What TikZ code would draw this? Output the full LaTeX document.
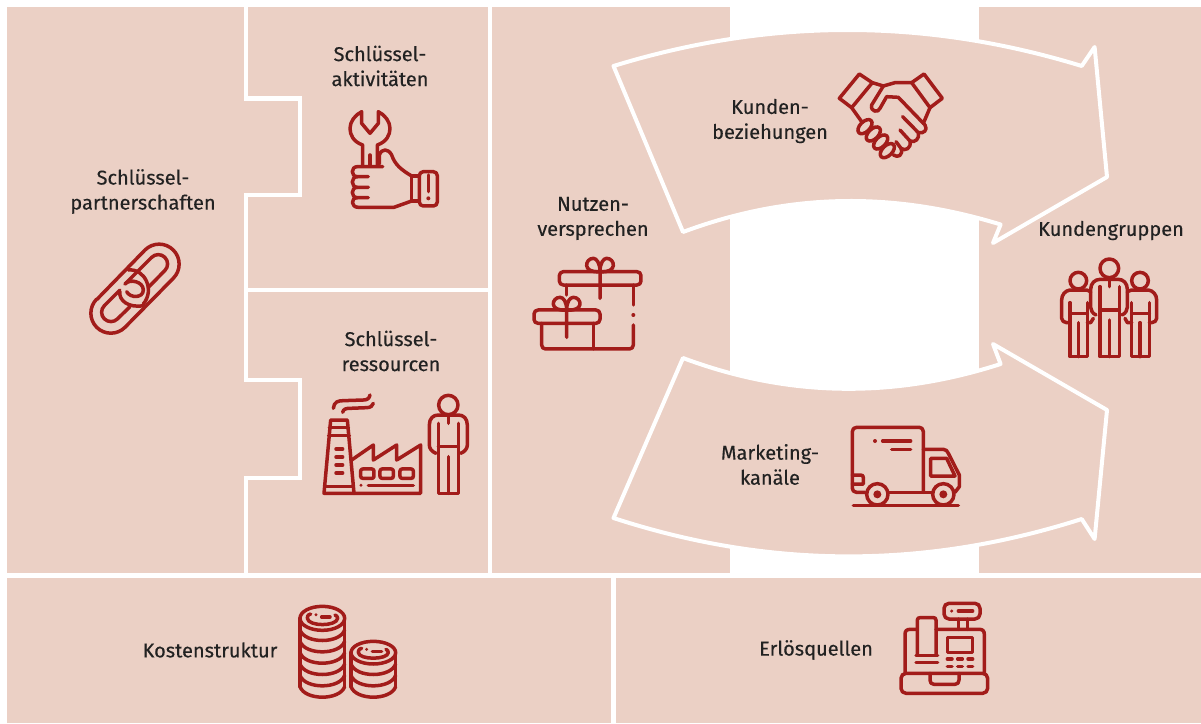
\documentclass[tikz,border=0pt]{standalone}
\usepackage{fontspec}
\setmainfont[FakeBold=0.3]{Fira Sans}
\definecolor{panelpink}{HTML}{EBD0C5}
\definecolor{iconred}{HTML}{A21C1A}
\definecolor{labelgrey}{HTML}{222222}
\tikzset{
	panel/.style={fill=panelpink,draw=none},
	seam/.style={draw=white,line width=4.5pt},
	flowarrow/.style={fill=panelpink,draw=white,line width=4pt,line join=round},
	boxlabel/.style={text=labelgrey,font=\addfontfeature{FakeBold=0.3}\fontsize{20pt}{25pt}\selectfont,align=center,inner sep=0pt},
	icon/.style={shift={#1},x=0.3333pt,y=-0.3333pt,draw=iconred,line width=3.5pt,line cap=round,line join=round},
	dotmark/.style={fill=iconred,draw=none}
}
\begin{document}
\begin{tikzpicture}[x=1pt,y=-1pt]
	\useasboundingbox (0,0) rectangle (1201,723);
	\fill[white] (0,0) rectangle (1201,723);
	\path[panel] (7,7) rectangle (730,573);
	\path[panel] (979,7) rectangle (1201,573);
	\path[panel] (7,578) rectangle (611,723);
	\path[panel] (616,578) rectangle (1201,723);
	\draw[seam] (246,7) -- (246,98.5) -- (300,98.5) -- (300,195) -- (246,195) -- (246,380) -- (300,380) -- (300,478) -- (246,478) -- (246,575);
	\draw[seam] (246,290) -- (490,290);
	\draw[seam] (490,7) -- (490,575);
	\draw[seam] (0,575.5) -- (1201,575.5);
	\draw[seam] (613.5,575) -- (613.5,723);
	\draw[flowarrow] (613.5,66) .. controls (770,18) and (925,18) .. (1081.7,66) -- (1094.6,47) -- (1107,177) -- (993,243) -- (1000.6,224.5) .. controls (895,192) and (790,192) .. (683,232) -- cycle;
	\draw[flowarrow] (683,358) .. controls (790,398) and (895,398) .. (1000.6,364) -- (993,344) -- (1107,410) -- (1094.6,539) -- (1081.7,519) .. controls (925,569) and (770,569) .. (613.5,518) -- cycle;

	\node[boxlabel] (partners) at (143,191.5) {Schlüssel-\\partnerschaften};
	\node[boxlabel] (activities) at (380,66) {Schlüssel-\\aktivitäten};
	\node[boxlabel] (resources) at (391,351) {Schlüssel-\\ressourcen};
	\node[boxlabel] (value) at (593,218.5) {Nutzen-\\versprechen};
	\node[boxlabel] (relations) at (770,121) {Kunden-\\beziehungen};
	\node[boxlabel] (channels) at (770,464.5) {Marketing-\\kanäle};
	\node[boxlabel] (segments) at (1111,230.5) {Kundengruppen};
	\node[boxlabel] (costs) at (210,650) {Kostenstruktur};
	\node[boxlabel] (revenue) at (816,650) {Erlösquellen};

	% chain
	\begin{scope}[icon={(80,235)}]
		\draw (51,193) -- (195,45) arc[start angle=225,end angle=405,radius=60] -- (135,277) arc[start angle=45,end angle=225,radius=60];
		\draw (215,67) arc[start angle=225,end angle=405,radius=28] -- (207,155);
		\draw (215,67) -- (135,147);
		\draw (73,212) -- (120,165);
		\draw (73,212) arc[start angle=225,end angle=45,radius=28] -- (150,215);
		\draw (145,105) .. controls (195,100) and (225,165) .. (190,207);
		\draw (135,147) .. controls (150,130) and (190,140) .. (190,165) .. controls (190,190) and (150,190) .. (140,170);
		\draw (120,170) .. controls (115,195) and (145,220) .. (190,212);
	\end{scope}

	% wrench and fist
	\begin{scope}[icon={(320,100)}]
		\draw (128,195) -- (128,135) .. controls (100,125) and (90,105) .. (90,85) .. controls (90,65) and (105,45) .. (125,35) -- (125,70) -- (150,100) -- (175,70) -- (175,35) .. controls (195,45) and (210,65) .. (210,85) .. controls (210,105) and (200,125) .. (172,135) -- (172,195);
		\draw (150,165) -- (150,195);
		\draw (178,192) -- (178,165) .. controls (185,145) and (205,145) .. (215,165) .. controls (225,195) and (245,210) .. (275,228);
		\draw (188,200) -- (112,200) .. controls (92,200) and (92,230) .. (112,230) -- (145,230);
		\draw (112,230) .. controls (92,230) and (92,262) .. (112,262) -- (145,262);
		\draw (112,262) .. controls (92,262) and (92,293) .. (112,293) -- (145,293);
		\draw (112,293) .. controls (92,293) and (92,322) .. (115,322) -- (222,322) -- (275,303);
		\draw (275,228) -- (275,303) -- (298,303);
		\draw (275,228) -- (298,228);
		\draw[rounded corners=4pt] (298,215) rectangle (352,318);
		\draw (325,225) -- (325,275);
		\fill[dotmark] (325,295) circle (6);
	\end{scope}

	% factory and worker
	\begin{scope}[icon={(310,385)}]
		\draw (70,70) .. controls (72,50) and (85,47) .. (100,47) -- (160,45) .. controls (172,45) and (178,40) .. (180,30);
		\draw (98,82) .. controls (100,72) and (108,70) .. (120,70) -- (170,68) .. controls (182,68) and (188,62) .. (190,55);
		\draw (62,105) -- (112,105) -- (132,325) -- (42,325) -- cycle;
		\draw (58,127) -- (115,127);
		\draw (56,152) -- (118,152);
		\draw (47,305) -- (128,305);
		\foreach \rowy in {192,216,240,264}
			\draw (78,\rowy) -- (98,\rowy);
		\draw (125,225) -- (190,180) -- (190,225) -- (260,180) -- (260,225) -- (332,180) -- (332,325) -- (132,325);
		\foreach \winx in {152,210,270}
			\draw[rounded corners=2pt] (\winx,252) rectangle ++(40,28);
		\fill[dotmark] (153,301) circle (5);
		\draw (175,301) -- (310,301);
		\draw (415,60) circle (29);
		\draw (415,90) -- (415,115);
		\draw (378,205) .. controls (365,200) and (358,190) .. (358,180) -- (358,120) .. controls (358,100) and (370,90) .. (385,90) -- (445,90) .. controls (460,90) and (472,100) .. (472,120) -- (472,180) .. controls (472,190) and (465,200) .. (452,205);
		\draw (385,115) -- (385,325) -- (445,325) -- (445,115);
		\draw (385,185) -- (445,185);
		\draw (415,215) -- (415,325);
	\end{scope}

	% gifts
	\begin{scope}[icon={(525,250)}]
		\draw[rounded corners=4pt] (103,65) rectangle (348,105);
		\draw (225,65) .. controls (170,70) and (180,25) .. (205,25) .. controls (215,25) and (225,40) .. (225,65) .. controls (225,40) and (235,25) .. (245,25) .. controls (270,25) and (280,70) .. (225,65) -- (225,145);
		\draw (125,105) -- (125,135);
		\draw (325,105) -- (325,165);
		\fill[dotmark] (325,195) circle (6);
		\draw (325,225) -- (325,285) .. controls (325,292) and (320,297) .. (313,297) -- (62,297) .. controls (55,297) and (50,292) .. (50,285) -- (50,220);
		\draw[rounded corners=4pt] (27,180) rectangle (225,220);
		\draw (125,180) .. controls (70,185) and (80,142) .. (105,142) .. controls (115,142) and (125,155) .. (125,180) .. controls (125,155) and (135,142) .. (145,142) .. controls (170,142) and (180,185) .. (125,180) -- (125,262);
		\draw (205,220) -- (205,297);
	\end{scope}

	% handshake
	\begin{scope}[icon={(830,60)}]
		\draw (88,42) -- (127,68) -- (65,143) -- (28,115) -- cycle;
		\draw (282,42) -- (245,68) -- (300,143) -- (337,115) -- cycle;
		\draw (127,68) -- (160,78) -- (195,68) -- (245,68);
		\draw (160,78) -- (125,135) .. controls (120,155) and (145,160) .. (150,145) -- (170,110) -- (205,112) -- (285,195) .. controls (295,210) and (280,222) .. (265,218);
		\draw (65,143) -- (95,185);
		\draw (300,143) -- (280,190);
		\draw (218,170) -- (265,218) .. controls (270,235) and (255,250) .. (240,243) -- (210,210);
		\draw (240,243) .. controls (245,265) and (225,275) .. (213,265) -- (198,245);
		\draw (213,265) .. controls (220,285) and (205,295) .. (190,285);
		\foreach \knobx/\knoby in {105/200,130/222,152/246,172/272}
			\draw[rotate around={45:(\knobx,\knoby)}] (\knobx,\knoby) ellipse (26 and 15);
	\end{scope}

	% truck
	\begin{scope}[icon={(840,415)}]
		\draw (75,232) -- (50,232) .. controls (42,232) and (37,227) .. (37,220) -- (37,50) .. controls (37,42) and (42,37) .. (50,37) -- (238,37) .. controls (245,37) and (250,42) .. (250,50) -- (250,232);
		\draw (148,232) -- (275,232);
		\draw (250,103) -- (310,103) .. controls (318,103) and (322,108) .. (325,115) -- (358,180) -- (358,215) -- (345,232);
		\draw (272,130) -- (320,130) -- (345,183) -- (272,183) -- cycle;
		\draw (37,180) -- (62,180) .. controls (68,180) and (70,183) .. (70,188) -- (70,207) -- (37,207);
		\foreach \wheelx in {112,310} {
			\draw (\wheelx,238) circle (32);
			\fill[dotmark] (\wheelx,238) circle (12);
		}
		\draw (40,271) -- (355,271);
		\fill[dotmark] (105,78) circle (6);
		\draw (128,78) -- (212,78);
		\draw (155,103) -- (212,103);
	\end{scope}

	% customers
	\begin{scope}[icon={(1050,250)}]
		\draw (178,55) circle (28);
		\draw (178,88) -- (178,110);
		\draw (138,195) .. controls (128,190) and (122,182) .. (122,172) -- (122,118) .. controls (122,100) and (135,88) .. (150,88) -- (205,88) .. controls (220,88) and (232,100) .. (232,118) -- (232,172) .. controls (232,182) and (226,190) .. (216,195);
		\draw (150,110) -- (150,320) -- (208,320) -- (208,110);
		\draw (150,180) -- (208,180);
		\draw (178,210) -- (178,320);
		\foreach \headx/\legl/\legr in {85/60/112,270/245/298} {
			\draw (\headx,92) circle (25);
			\draw (\legl,158) -- (\legl,320) -- (\legr,320) -- (\legr,158);
			\draw (\legl,190) -- (\legr,190);
			\draw (\headx,218) -- (\headx,320);
		}
		\draw (122,125) -- (110,120) -- (60,120) .. controls (45,122) and (35,135) .. (35,150) -- (35,205) .. controls (35,212) and (42,218) .. (50,218) -- (60,218);
		\draw (112,218) -- (122,218) -- (130,205);
		\draw (232,125) -- (245,120) -- (295,120) .. controls (310,122) and (320,135) .. (320,150) -- (320,205) .. controls (320,212) and (313,218) .. (305,218) -- (298,218);
		\draw (245,218) -- (232,218) -- (225,205);
	\end{scope}

	% coins
	\begin{scope}[icon={(290,600)}]
		\draw (97,55) ellipse (67 and 36);
		\draw (52,55) .. controls (52,45) and (58,42) .. (62,42);
		\draw (52,55) .. controls (55,80) and (140,80) .. (143,55) .. controls (143,50) and (140,47) .. (135,45);
		\fill[dotmark] (78,44) circle (5);
		\draw (95,51) -- (120,51);
		\draw (30,55) -- (30,260);
		\draw (164,55) -- (164,260);
		\foreach \rimy in {90,124,158,192,226,260}
			\draw (30,\rimy) .. controls (45,\rimy+42) and (149,\rimy+42) .. (164,\rimy);
		\draw (250,158) ellipse (67 and 34);
		\draw (205,158) .. controls (205,148) and (211,145) .. (215,145);
		\draw (205,158) .. controls (208,180) and (292,180) .. (295,158) .. controls (295,153) and (292,150) .. (288,148);
		\fill[dotmark] (230,148) circle (5);
		\draw (247,154) -- (275,154);
		\draw (183,158) -- (183,260);
		\draw (317,158) -- (317,260);
		\foreach \rimy in {192,226,260}
			\draw (183,\rimy) .. controls (198,\rimy+42) and (302,\rimy+42) .. (317,\rimy);
	\end{scope}

	% cash register
	\begin{scope}[icon={(890,595)}]
		\draw[rounded corners=5pt] (162,25) rectangle (270,72);
		\fill[dotmark] (185,48) circle (5);
		\draw (205,48) -- (248,48);
		\draw (205,72) -- (205,103);
		\draw (232,72) -- (232,103);
		\draw (45,235) -- (45,118) .. controls (45,108) and (50,103) .. (60,103) -- (80,103);
		\draw (138,103) -- (268,103) .. controls (278,103) and (283,108) .. (283,118) -- (283,235);
		\draw (82,180) -- (82,75) .. controls (82,70) and (85,68) .. (90,68) -- (130,68) .. controls (135,68) and (138,70) .. (138,75) -- (138,180);
		\draw (78,182) -- (143,182);
		\draw (78,203) -- (143,203);
		\draw (172,127) rectangle (248,172);
		\foreach \keyx in {172,203,234} {
			\draw (\keyx,192) -- ++(14,0);
			\draw (\keyx,214) -- ++(14,0);
		}
		\draw[rounded corners=5pt] (33,235) rectangle (293,295);
		\draw (120,235) -- (120,255) .. controls (120,263) and (124,268) .. (132,268) -- (195,268) .. controls (203,268) and (207,263) .. (207,255) -- (207,235);
	\end{scope}
\end{tikzpicture}
\end{document}
